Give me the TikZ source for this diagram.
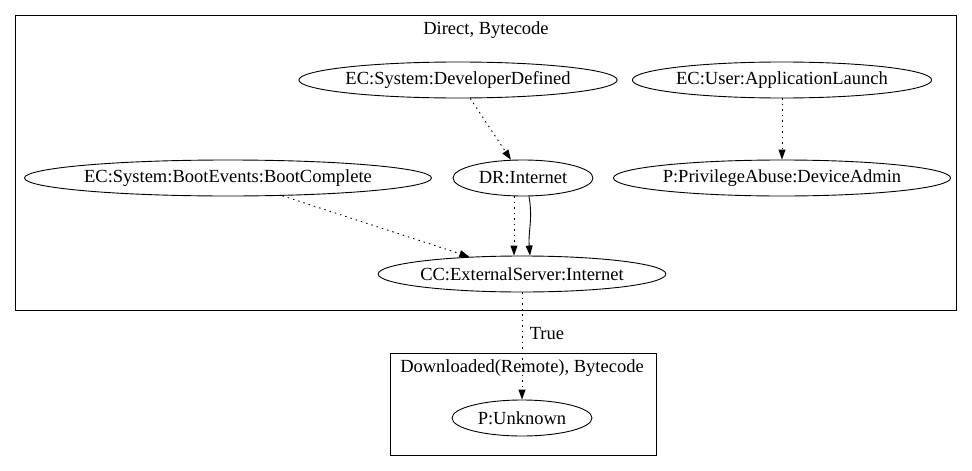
\documentclass[tikz,border=0pt]{standalone}
\usepackage{fontspec}
\setmainfont{Liberation Serif}
\newfontfamily\tfont{Liberation Serif}
\usetikzlibrary{shapes.geometric,arrows.meta}
\begin{document}
\begin{tikzpicture}[x=1pt,y=-1pt,
  every node/.style={font=\tfont\fontsize{18.5}{21}\selectfont},
  ell/.style={draw,ellipse,inner sep=0pt,minimum height=36pt,line width=0.9pt},
  clus/.style={draw,line width=0.9pt},
  dot/.style={line width=0.9pt,dash pattern=on 1.5pt off 4pt,-{Triangle[length=10pt,width=7pt]}},
  sol/.style={line width=0.9pt,-{Triangle[length=10pt,width=7pt]}}]
\useasboundingbox (0,0) rectangle (972,471);
\draw[clus] (15,15) rectangle (956,310);
\node (t1) at (486,30) {Direct, Bytecode};
\draw[clus] (390,353) rectangle (656,455);
\node (t2) at (522,368) {Downloaded(Remote), Bytecode};
\node[ell,minimum width=306pt] (dev) at (458,80) {EC:System:DeveloperDefined};
\node[ell,minimum width=284pt] (app) at (782,80) {EC:User:ApplicationLaunch};
\node[ell,minimum width=140pt] (dr) at (523,178) {DR:Internet};
\node[ell,minimum width=332pt] (pad) at (782,178) {P:PrivilegeAbuse:DeviceAdmin};
\node[ell,minimum width=406pt] (boot) at (228,178) {EC:System:BootEvents:BootComplete};
\node[ell,minimum width=284pt] (cc) at (522,274) {CC:ExternalServer:Internet};
\node[ell,minimum width=140pt] (unk) at (522,418) {P:Unknown};
\draw[dot] (dev) -- (dr);
\draw[dot] (app) -- (pad);
\draw[dot] (boot) -- (cc);
\draw[dot] ([xshift=-9pt]dr.south) -- ([xshift=-8pt]cc.north);
\draw[sol] ([xshift=6pt]dr.south) to[out=-80,in=95] ([xshift=8pt]cc.north);
\draw[dot] (cc) -- node[right=4pt,pos=0.38] (lt) {True} (unk);
\end{tikzpicture}
\end{document}
